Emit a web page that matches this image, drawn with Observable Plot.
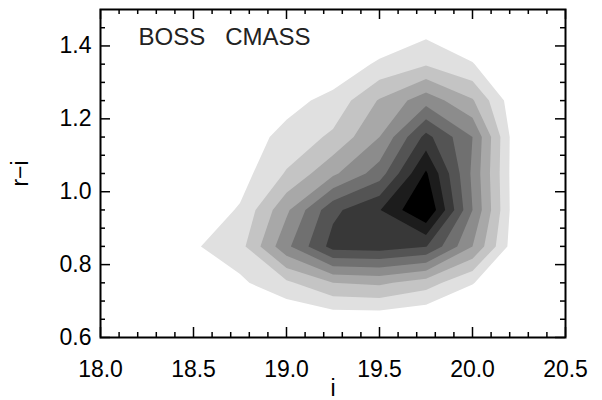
<!DOCTYPE html>
<html>
<head>
<meta charset="utf-8">
<script src="https://cdn.jsdelivr.net/npm/d3@7"></script>
<script src="https://cdn.jsdelivr.net/npm/@observablehq/plot@0.6"></script>
<style>
  body { margin: 0; background: #fff; }
  #chart svg { display: block; }
</style>
</head>
<body>
<div id="chart"></div>
<script>
// Density grid (i along columns, r-i along rows)
const gridX = [18.25, 18.5, 18.75, 19.0, 19.25, 19.5, 19.75, 20.0, 20.25, 20.5];
const gridY = [0.55, 0.65, 0.75, 0.85, 0.95, 1.05, 1.15, 1.25, 1.35, 1.45, 1.55];

const row055 = [0, 0,    0,    0,    0,    0,    0,     0,    0, 0];
const row065 = [0, 0,    0,    0,    0.3,  0.3,  0,     0,    0, 0];
const row075 = [0, 0,    0.8,  1.8,  3.0,  3.2,  2.5,   1.05, 0, 0];
const row085 = [0, 0.88, 1.63, 4.75, 7.4,  7.5,  7.05,  4.0,  0, 0];
const row095 = [0, 0.3,  1.1,  3.8,  6.75, 7.95, 10.1,  5.0,  0, 0];
const row105 = [0, 0,    0.57, 2.1,  3.8,  5.5,  9.15,  4.8,  0, 0];
const row115 = [0, 0,    0.47, 1.3,  2.2,  4.0,  7.33,  5.0,  0, 0];
const row125 = [0, 0,    0.2,  0.67, 1.3,  3.1,  4.6,   3.1,  0, 0];
const row135 = [0, 0,    0,    0,    0.3,  1.17, 1.9,   1.05, 0, 0];
const row145 = [0, 0,    0,    0,    0,    0,    0.58,  0.2,  0, 0];
const row155 = [0, 0,    0,    0,    0,    0,    0,     0,    0, 0];

const levels = [1, 2, 3, 4, 5, 6, 7, 8, 9];
const levelGrays = ["#e0e0e0", "#c4c4c4", "#a8a8a8", "#8c8c8c", "#707070", "#545454", "#383838", "#1c1c1c", "#000000"];

const xMajor = [18.0, 18.5, 19.0, 19.5, 20.0, 20.5];
const xMinor = [18.1, 18.2, 18.3, 18.4, 18.6, 18.7, 18.8, 18.9, 19.1, 19.2, 19.3, 19.4,
                19.6, 19.7, 19.8, 19.9, 20.1, 20.2, 20.3, 20.4];
const yMajor = [0.6, 0.8, 1.0, 1.2, 1.4];
const yMinor = [0.65, 0.7, 0.75, 0.85, 0.9, 0.95, 1.05, 1.1, 1.15, 1.25, 1.3, 1.35, 1.45];

const titleText = "BOSS   CMASS";
const xLabel = "i";
const yLabel = "r\u2212i";

const rows = [row055, row065, row075, row085, row095, row105, row115, row125, row135, row145, row155];
const values = rows.flat();
const stepX = gridX[1] - gridX[0];
const stepY = gridY[1] - gridY[0];
const fmt = d3.format(".1f");

const W = 602, H = 400;
const mL = 100, mR = 37, mT = 9, mB = 63;
const innerW = W - mL - mR, innerH = H - mT - mB;
const majorLen = 10, minorLen = 5;

const tickStyle = {stroke: "black", strokeWidth: 1.5};

const plot = Plot.plot({
  width: W,
  height: H,
  marginLeft: mL,
  marginRight: mR,
  marginTop: mT,
  marginBottom: mB,
  x: {domain: [18, 20.5]},
  y: {domain: [0.6, 1.5]},
  color: {type: "ordinal", domain: levels, range: levelGrays},
  style: {fontFamily: "'Liberation Sans', Arial, sans-serif", background: "white", color: "black", overflow: "visible"},
  marks: [
    Plot.contour(values, {
      value: d => d,
      width: gridX.length,
      height: gridY.length,
      x1: gridX[0] - stepX / 2,
      x2: gridX[gridX.length - 1] + stepX / 2,
      y1: gridY[0] - stepY / 2,
      y2: gridY[gridY.length - 1] + stepY / 2,
      thresholds: levels,
      fill: "value",
      stroke: "none",
      clip: true
    }),
    Plot.text([titleText], {
      frameAnchor: "top-left", dx: 38, dy: 27.5, text: d => d,
      textAnchor: "start", lineAnchor: "middle", fontSize: 24, fill: "#222"
    }),
    // inward ticks on all four sides
    Plot.tickX(xMajor, {x: d => d, insetTop: innerH - majorLen, ...tickStyle}),
    Plot.tickX(xMinor, {x: d => d, insetTop: innerH - minorLen, ...tickStyle}),
    Plot.tickX(xMajor, {x: d => d, insetBottom: innerH - majorLen, ...tickStyle}),
    Plot.tickX(xMinor, {x: d => d, insetBottom: innerH - minorLen, ...tickStyle}),
    Plot.tickY(yMajor, {y: d => d, insetRight: innerW - majorLen, ...tickStyle}),
    Plot.tickY(yMinor, {y: d => d, insetRight: innerW - minorLen, ...tickStyle}),
    Plot.tickY(yMajor, {y: d => d, insetLeft: innerW - majorLen, ...tickStyle}),
    Plot.tickY(yMinor, {y: d => d, insetLeft: innerW - minorLen, ...tickStyle}),
    // labels
    Plot.axisX(xMajor, {
      anchor: "bottom", tickSize: 0, tickPadding: 23, tickFormat: fmt,
      fontSize: 23, letterSpacing: 2,
      label: xLabel, labelAnchor: "center", labelOffset: 58, labelArrow: "none"
    }),
    Plot.axisY(yMajor, {
      anchor: "left", tickSize: 0, tickPadding: 9, tickFormat: fmt,
      fontSize: 23, letterSpacing: 2,
      label: yLabel, labelAnchor: "center", labelOffset: 89, labelArrow: "none"
    }),
    Plot.frame({stroke: "black", strokeWidth: 2})
  ]
});

document.getElementById("chart").appendChild(plot);
</script>
</body>
</html>
